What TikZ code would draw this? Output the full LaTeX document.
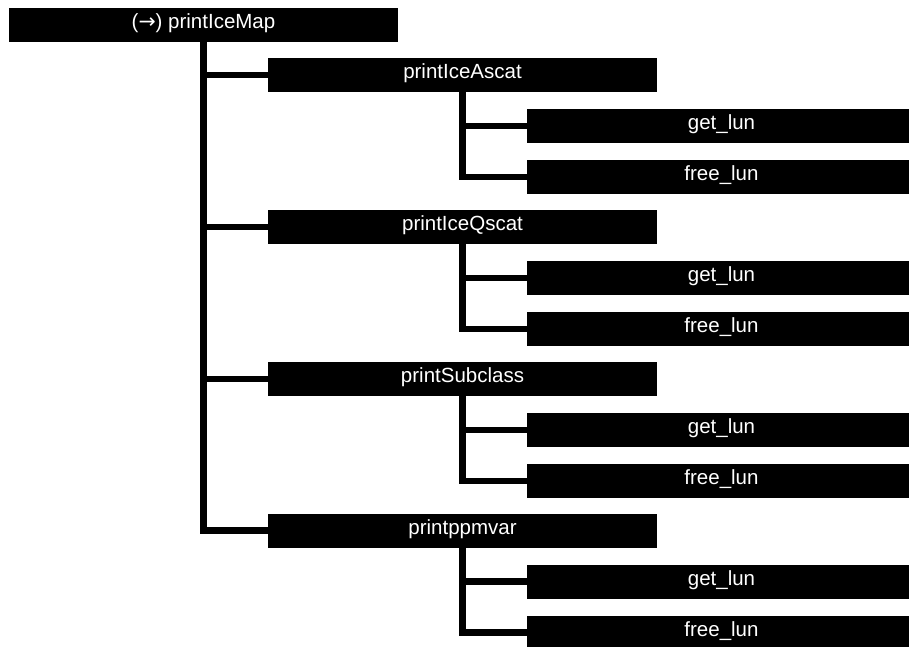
\documentclass[tikz,border=0pt]{standalone}
\usepackage{fontspec}
\setmainfont{Liberation Sans}
\newfontfamily\arrowfont{DejaVu Sans}
\begin{document}
\begin{tikzpicture}[x=1pt,y=-1pt,
  box/.style={fill=black,text=white,minimum width=389pt,minimum height=34pt,inner sep=0pt,
    text height=11pt,text depth=4pt,font=\fontsize{20.5}{24}\selectfont},
  link/.style={line width=6.5pt,black}]
\useasboundingbox (0,0) rectangle (909,646);
\clip (0,0) rectangle (909,646);
\node[box] (root) at (203.5,25) {({\arrowfont →}) printIceMap};
\foreach \i/\name [count=\k from 0] in {1/printIceAscat,2/printIceQscat,3/printSubclass,4/printppmvar}{
  \pgfmathsetmacro{\yy}{75+151.9*\k}
  \node[box] (a\i) at (462.5,\yy) {\name};
  \node[box] (g\i) at (721.5,\yy+51) {get\_lun};
  \node[box] (f\i) at (721.5,\yy+102) {free\_lun};
  \draw[link] (a\i.south) |- (f\i.west);
  \draw[link] (a\i.south |- g\i.west) -- (g\i.west);
}
\draw[link] (root.south) |- (a4.west);
\foreach \i in {1,2,3}{
  \draw[link] (root.south |- a\i.west) -- (a\i.west);
}
\end{tikzpicture}
\end{document}
